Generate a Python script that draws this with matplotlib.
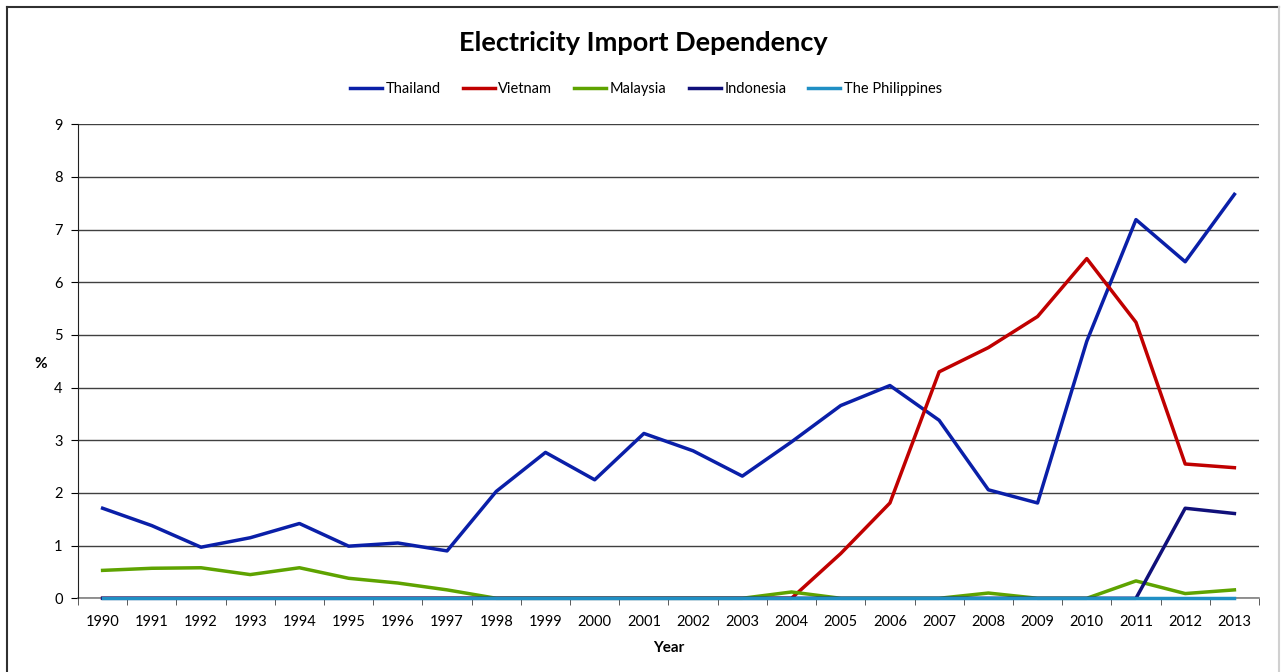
import numpy as np
import matplotlib
matplotlib.use("Agg")
import matplotlib.pyplot as plt
from matplotlib.lines import Line2D

plt.rcParams['font.family'] = ['Lato', 'DejaVu Sans']

years = list(range(1990, 2014))
thailand = [1.71, 1.38, 0.97, 1.15, 1.42, 0.99, 1.05, 0.90, 2.03, 2.77, 2.25, 3.13,
            2.80, 2.32, 2.97, 3.66, 4.04, 3.38, 2.06, 1.81, 4.88, 7.19, 6.39, 7.67]
vietnam = [0, 0, 0, 0, 0, 0, 0, 0, 0, 0, 0, 0,
           0, 0, 0, 0.85, 1.81, 4.30, 4.76, 5.35, 6.45, 5.24, 2.55, 2.48]
malaysia = [0.53, 0.57, 0.58, 0.45, 0.58, 0.38, 0.29, 0.16, 0, 0, 0, 0,
            0, 0, 0.12, 0, 0, 0, 0.10, 0, 0, 0.33, 0.09, 0.16]
indonesia = [0] * 22 + [1.71, 1.61]
philippines = [0] * 24

series = [("Thailand", thailand, "#0a1fa8"),
          ("Vietnam", vietnam, "#c00000"),
          ("Malaysia", malaysia, "#5ea300"),
          ("Indonesia", indonesia, "#10107a"),
          ("The Philippines", philippines, "#1f8fc4")]

fig = plt.figure(figsize=(12.82, 6.72), dpi=100)
ax = fig.add_axes([78/1282, 1 - 598.3/672, 1181/1282, (598.3 - 124.3)/672])

x = np.arange(len(years))
for name, vals, col in series:
    ax.plot(x, vals, color=col, linewidth=2.5, label=name, clip_on=False, zorder=3)

ax.set_xlim(-0.5, len(years) - 0.5)
ax.set_ylim(0, 9)
ax.set_yticks(range(0, 10))
ax.set_xticks(x)
ax.set_xticklabels([str(y) for y in years], fontsize=10.5)
ax.set_xticks(np.arange(-0.5, len(years)), minor=True)
ax.tick_params(axis='x', which='major', length=0, pad=12)
ax.tick_params(axis='x', which='minor', length=5, color='#404040', direction='out')
ax.tick_params(axis='y', length=5, direction='out', labelsize=10.5, pad=6)
ax.yaxis.grid(True, color='#404040', linewidth=1.0)
ax.set_axisbelow(True)
for side in ['top', 'right']:
    ax.spines[side].set_visible(False)
ax.spines['left'].set_color('#202020')
ax.spines['bottom'].set_color('#808080')
ax.spines['bottom'].set_linewidth(1.2)
ax.spines['bottom'].set_zorder(1)

ax.set_xlabel("Year", fontsize=11, fontweight='bold', labelpad=9)
ax.text(-0.032, 0.494, "%", transform=ax.transAxes, ha='center', va='center',
        fontsize=11, fontweight='bold')

fig.text(643/1282, 1 - 43/672, "Electricity Import Dependency", ha='center', va='center',
         fontsize=19.5, fontweight='bold')
fig.legend(loc='center', bbox_to_anchor=(646/1282, 1 - 89/672), ncol=5, frameon=False,
           fontsize=10.5, handlelength=2.2, handletextpad=0.25, columnspacing=1.5)

# outer frame: dark top and left edges, light right edge
W, H = 1282, 672
fig.add_artist(Line2D([7/W, 7/W], [0, 1 - 7/H], transform=fig.transFigure,
                      color='#303030', linewidth=1.5))
fig.add_artist(Line2D([7/W, 1279/W], [1 - 7/H, 1 - 7/H], transform=fig.transFigure,
                      color='#303030', linewidth=1.5))
fig.add_artist(Line2D([1279/W, 1279/W], [0, 1 - 7/H], transform=fig.transFigure,
                      color='#d0d0d0', linewidth=1.5))

fig.savefig("out.png", dpi=100)
